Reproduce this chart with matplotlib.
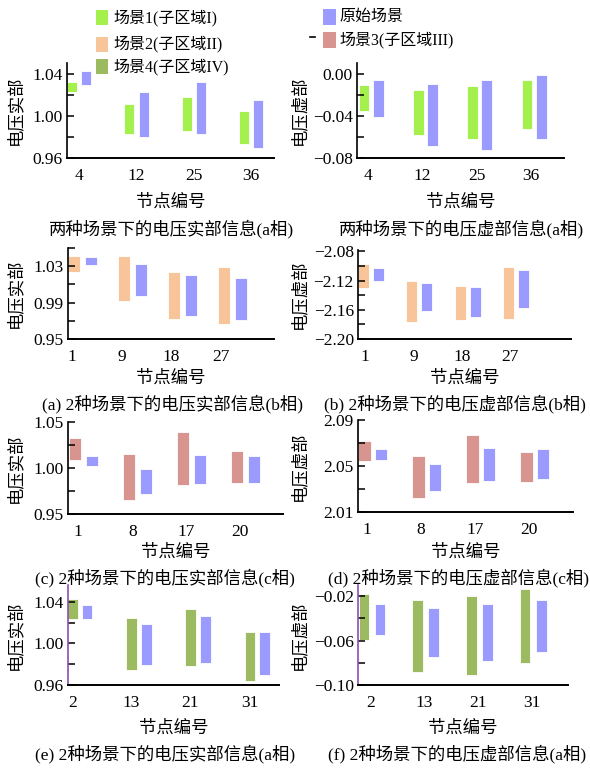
import matplotlib
matplotlib.use('Agg')
import numpy as np
import matplotlib.pyplot as plt
from matplotlib.patches import Rectangle
from matplotlib.lines import Line2D
from matplotlib.ticker import FuncFormatter

plt.rcParams['font.family'] = ['Liberation Serif', 'Noto Sans CJK SC']
plt.rcParams['axes.unicode_minus'] = True

W, H = 590, 769

# ---- data ----
nodes_a = ['4', '12', '25', '36']
nodes_b = ['1', '9', '18', '27']
nodes_c = ['1', '8', '17', '20']
nodes_e = ['2', '13', '21', '31']

legend_left = ['场景1(子区域I)', '场景2(子区域II)', '场景4(子区域IV)']
legend_right = ['原始场景', '场景3(子区域III)']

# a-phase real, scenario 1 vs original
p1_scn_hi = [1.0323, 1.0116, 1.0179, 1.0041]
p1_scn_lo = [1.0223, 0.9831, 0.9859, 0.9736]
p1_org_hi = [1.0424, 1.0229, 1.0317, 1.0151]
p1_org_lo = [1.0292, 0.9802, 0.9831, 0.9699]
# a-phase imag
p2_scn_hi = [-0.0105, -0.0155, -0.0121, -0.0064]
p2_scn_lo = [-0.0353, -0.0582, -0.0623, -0.0529]
p2_org_hi = [-0.0064, -0.0102, -0.0064, -0.0011]
p2_org_lo = [-0.0416, -0.0682, -0.0723, -0.0620]
# b-phase real, scenario 2
p3_scn_hi = [1.0416, 1.0416, 1.0235, 1.0287]
p3_scn_lo = [1.0235, 0.9922, 0.9716, 0.9668]
p3_org_hi = [1.0398, 1.0324, 1.0202, 1.0169]
p3_org_lo = [1.0317, 0.9977, 0.9753, 0.9708]
# b-phase imag
p4_scn_hi = [-2.0974, -2.1209, -2.1268, -2.1019]
p4_scn_lo = [-2.1299, -2.1769, -2.1733, -2.1729]
p4_org_hi = [-2.1028, -2.1232, -2.1281, -2.1051]
p4_org_lo = [-2.1209, -2.1611, -2.1702, -2.1571]
# c-phase real, scenario 3
p5_scn_hi = [1.0321, 1.0148, 1.0386, 1.0188]
p5_scn_lo = [1.0090, 0.9657, 0.9819, 0.9841]
p5_org_hi = [1.0126, 0.9986, 1.0137, 1.0126]
p5_org_lo = [1.0025, 0.9722, 0.9827, 0.9841]
# c-phase imag
p6_scn_hi = [2.0718, 2.0590, 2.0768, 2.0619]
p6_scn_lo = [2.0544, 2.0224, 2.0352, 2.0360]
p6_org_hi = [2.0651, 2.0520, 2.0660, 2.0645]
p6_org_lo = [2.0555, 2.0279, 2.0369, 2.0384]
# a-phase real, scenario 4
p7_scn_hi = [1.0422, 1.0246, 1.0326, 1.0112]
p7_scn_lo = [1.0230, 0.9744, 0.9782, 0.9635]
p7_org_hi = [1.0365, 1.0182, 1.0259, 1.0109]
p7_org_lo = [1.0237, 0.9789, 0.9811, 0.9696]
# a-phase imag, scenario 4
p8_scn_hi = [-0.0182, -0.0233, -0.0200, -0.0137]
p8_scn_lo = [-0.0594, -0.0884, -0.0913, -0.0806]
p8_org_hi = [-0.0275, -0.0304, -0.0275, -0.0233]
p8_org_lo = [-0.0549, -0.0752, -0.0788, -0.0704]

ylab_re = '电压实部'
ylab_im = '电压虚部'
xlab = '节点编号'
subtitles = ['两种场景下的电压实部信息(a相)', '两种场景下的电压虚部信息(a相)',
             '(a) 2种场景下的电压实部信息(b相)', '(b) 2种场景下的电压虚部信息(b相)',
             '(c) 2种场景下的电压实部信息(c相)', '(d) 2种场景下的电压虚部信息(c相)',
             '(e) 2种场景下的电压实部信息(a相)', '(f) 2种场景下的电压虚部信息(a相)']

# ---- styles ----
GREEN = '#a4f04c'
ORANGE = '#f8c59a'
RED = '#d8948f'
OLIVE = '#9cba5f'
BLUE = '#9b9bff'
PURPLE = '#8b4fb0'

# each panel: px box (l, t, r, b), ylim, first tick + step, xlim, bar width, bar offset, tick offset
panels = [
    dict(box=(67, 63, 274, 158), ylim=(0.96, 1.05), y0=0.96, step=0.04, xlim=(-0.21, 3.40), w=0.175, d=0.125, toff=0.0,
         nodes=nodes_a, data=(p1_scn_lo, p1_scn_hi, p1_org_lo, p1_org_hi), c=GREEN, yl=ylab_re, spine='k'),
    dict(box=(357, 63, 564, 158), ylim=(-0.08, 0.01), y0=-0.08, step=0.04, xlim=(-0.26, 3.55), w=0.2, d=0.13, toff=-0.06,
         nodes=nodes_a, data=(p2_scn_lo, p2_scn_hi, p2_org_lo, p2_org_hi), c=GREEN, yl=ylab_im, spine='k'),
    dict(box=(68, 248, 274, 339), ylim=(0.95, 1.05), y0=0.95, step=0.04, xlim=(-0.30, 3.84), w=0.24, d=0.17, toff=-0.22,
         nodes=nodes_b, data=(p3_scn_lo, p3_scn_hi, p3_org_lo, p3_org_hi), c=ORANGE, yl=ylab_re, spine='k'),
    dict(box=(358, 250, 571, 339), ylim=(-2.20, -2.078), y0=-2.20, step=0.04, xlim=(-0.27, 4.14), w=0.23, d=0.155, toff=-0.12,
         nodes=nodes_b, data=(p4_scn_lo, p4_scn_hi, p4_org_lo, p4_org_hi), c=ORANGE, yl=ylab_im, spine='k'),
    dict(box=(68, 422, 283, 514), ylim=(0.95, 1.05), y0=0.95, step=0.05, xlim=(-0.29, 3.69), w=0.22, d=0.157, toff=-0.1,
         nodes=nodes_c, data=(p5_scn_lo, p5_scn_hi, p5_org_lo, p5_org_hi), c=RED, yl=ylab_re, spine='k'),
    dict(box=(358, 420, 573, 512), ylim=(2.01, 2.09), y0=2.01, step=0.04, xlim=(-0.27, 3.71), w=0.23, d=0.153, toff=-0.11,
         nodes=nodes_c, data=(p6_scn_lo, p6_scn_hi, p6_org_lo, p6_org_hi), c=RED, yl=ylab_im, spine='k'),
    dict(box=(68, 585, 279, 685), ylim=(0.96, 1.056), y0=0.96, step=0.04, xlim=(-0.20, 3.37), w=0.18, d=0.123, toff=-0.13,
         nodes=nodes_e, data=(p7_scn_lo, p7_scn_hi, p7_org_lo, p7_org_hi), c=OLIVE, yl=ylab_re, spine=PURPLE),
    dict(box=(358, 585, 568, 685), ylim=(-0.10, -0.010), y0=-0.10, step=0.04, xlim=(-0.26, 3.65), w=0.2, d=0.15, toff=-0.03,
         nodes=nodes_e, data=(p8_scn_lo, p8_scn_hi, p8_org_lo, p8_org_hi), c=OLIVE, yl=ylab_im, spine=PURPLE),
]
xlabel_y = [203, 379, 553, 729]
subtitle_y = [229, 404, 578, 754]
subtitle_x = [172, 462, 173, 455, 165, 458, 165, 457]

fig = plt.figure(figsize=(W / 100, H / 100), dpi=100)


def fx(px):
    return px / W


def fy(py):
    return 1 - py / H


def fmt(v, pos):
    return f'{v:.2f}'.replace('-', '\u2212')


for i, p in enumerate(panels):
    l, t, r, b = p['box']
    ax = fig.add_axes([fx(l), fy(b), fx(r - l), (b - t) / H])
    lo_s, hi_s, lo_o, hi_o = p['data']
    xs = range(len(p['nodes']))
    ax.bar([x - p['d'] for x in xs], [h - lo for h, lo in zip(hi_s, lo_s)], bottom=lo_s,
           width=p['w'], color=p['c'], edgecolor='#ffffff', linewidth=0.6)
    ax.bar([x + p['d'] for x in xs], [h - lo for h, lo in zip(hi_o, lo_o)], bottom=lo_o,
           width=p['w'], color=BLUE, edgecolor='#ffffff', linewidth=0.6)
    ax.set_xlim(*p['xlim'])
    ax.set_ylim(*p['ylim'])
    top = p['ylim'][1] + 1e-6
    ax.set_yticks(np.arange(p['y0'], top, p['step']))
    ax.set_yticks(np.arange(p['y0'] + p['step'] / 2, top, p['step']), minor=True)
    ax.yaxis.set_major_formatter(FuncFormatter(fmt))
    ax.set_xticks([x + p['toff'] for x in xs])
    ax.set_xticklabels(p['nodes'])
    ax.tick_params(axis='x', length=0, pad=7, labelsize=12.5)
    ax.tick_params(axis='y', which='both', direction='in', length=5, width=1.1, pad=3, labelsize=12.5)
    for s in ['top', 'right']:
        ax.spines[s].set_visible(False)
    ax.spines['bottom'].set_linewidth(1.4)
    ax.spines['left'].set_linewidth(1.2)
    ax.spines['left'].set_color(p['spine'])
    ax.patch.set_alpha(0)

    col = i % 2
    row = i // 2
    ylx = 16 if col == 0 else 300
    fig.text(fx(ylx), fy((t + b) / 2), p['yl'], rotation=90, ha='center', va='center', fontsize=12.5)
    fig.text(fx((l + r) / 2), fy(xlabel_y[row]), xlab, ha='center', va='center', fontsize=12.5)
    fig.text(fx(subtitle_x[i]), fy(subtitle_y[row]), subtitles[i], ha='center', va='center', fontsize=12.5)

# ---- legends (drawn by hand in figure space) ----
left_cols = [GREEN, ORANGE, OLIVE]
left_rows = [17.5, 44.5, 66.7]
for lab, c, yy in zip(legend_left, left_cols, left_rows):
    fig.add_artist(Rectangle((fx(96), fy(yy + 7.5)), 12 / W, 15 / H, transform=fig.transFigure,
                             facecolor=c, edgecolor='none'))
    fig.text(fx(113), fy(yy), lab, ha='left', va='center', fontsize=11.5)

right_cols = [BLUE, RED]
right_rows = [17, 39.5]
for lab, c, yy in zip(legend_right, right_cols, right_rows):
    fig.add_artist(Rectangle((fx(323), fy(yy + 8)), 13 / W, 16 / H, transform=fig.transFigure,
                             facecolor=c, edgecolor='none'))
    fig.text(fx(339), fy(yy), lab, ha='left', va='center', fontsize=11.5)
fig.add_artist(Line2D([fx(310), fx(315)], [fy(37), fy(37)], transform=fig.transFigure, color='k', lw=1.2))

fig.savefig('out.png', dpi=100)
